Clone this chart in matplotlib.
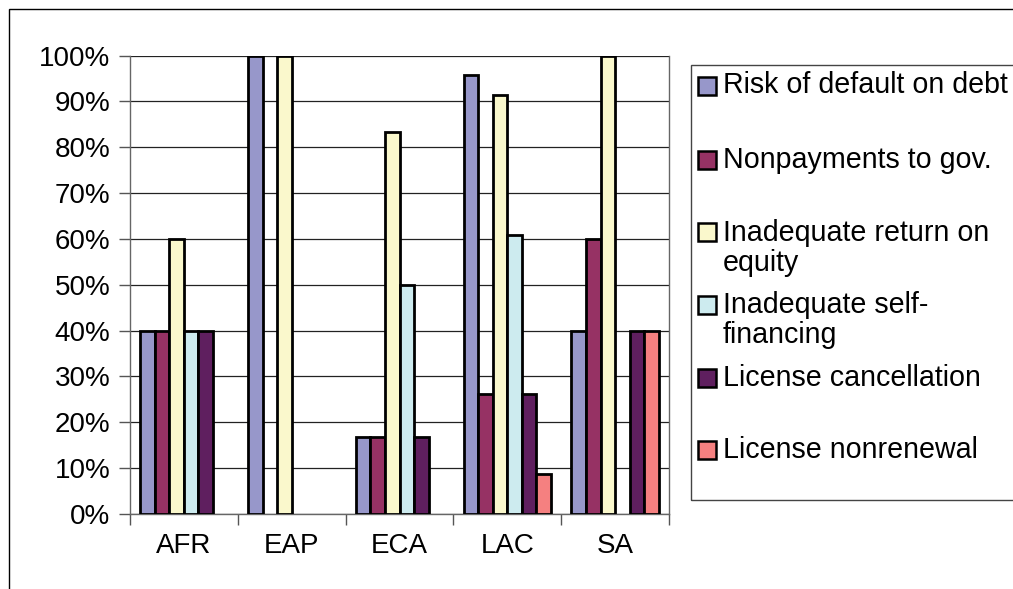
import numpy as np
import matplotlib
matplotlib.use("Agg")
import matplotlib.pyplot as plt
from matplotlib.patches import Rectangle

plt.rcParams['font.family'] = ['Liberation Sans', 'DejaVu Sans']

regions = ['AFR', 'EAP', 'ECA', 'LAC', 'SA']
series = ['Risk of default on debt', 'Nonpayments to gov.',
          'Inadequate return on\nequity', 'Inadequate self-\nfinancing',
          'License cancellation', 'License nonrenewal']
risk_default = [40, 100, 16.7, 95.7, 40]
nonpayments = [40, 0, 16.7, 26.1, 60]
return_equity = [60, 100, 83.3, 91.3, 100]
self_financing = [40, 0, 50, 60.9, 0]
license_cancel = [40, 0, 16.7, 26.1, 40]
license_nonrenew = [0, 0, 0, 8.7, 40]
values = [risk_default, nonpayments, return_equity, self_financing,
          license_cancel, license_nonrenew]
colors = ['#9797CA', '#963264', '#FAF8CC', '#CDEBEF', '#5F1F5F', '#F58080']

W, H = 1013, 589
fig = plt.figure(figsize=(W / 100, H / 100), dpi=100)
fig.patch.set_facecolor('white')
ax = fig.add_axes([130 / W, 1 - 514 / H, 539 / W, (514 - 55.5) / H])

x = np.arange(len(regions))
bw = 0.135
for i, (vals, col) in enumerate(zip(values, colors)):
    # zero-height bars are not drawn (no outline on the baseline)
    edges = ['black' if v > 0 else 'none' for v in vals]
    ax.bar(x + (i - 2.5) * bw, vals, bw, color=col, edgecolor=edges,
           linewidth=2.0, zorder=3)

ax.set_xlim(-0.5, len(regions) - 0.5)
ax.set_ylim(0, 100)
ax.set_yticks(np.arange(0, 101, 10))
ax.set_yticklabels(['%d%%' % v for v in range(0, 101, 10)], fontsize=20)
ax.set_xticks(x)
ax.set_xticklabels(regions, fontsize=20)
ax.set_xticks(np.arange(-0.5, len(regions), 1), minor=True)
ax.tick_params(axis='x', which='major', length=0, pad=14)
ax.tick_params(axis='x', which='minor', length=8, width=1, color='#555555')
ax.tick_params(axis='y', length=8, width=1, color='#555555', pad=6)
ax.yaxis.grid(True, color='#222222', linewidth=0.9, zorder=0)
ax.spines['top'].set_visible(False)
for s in ['left', 'bottom', 'right']:
    ax.spines[s].set_color('#666666')
    ax.spines[s].set_linewidth(1)

# outer chart border
fig.patches.append(Rectangle((9 / W, -0.1), 1.2, 1 - 9 / H + 0.1,
                             transform=fig.transFigure, fill=False,
                             edgecolor='black', linewidth=1))

# legend box
fig.patches.append(Rectangle((691 / W, 1 - 500 / H), 0.5, (500 - 65) / H,
                             transform=fig.transFigure, fill=False,
                             edgecolor='#444444', linewidth=1))
label_y = [85, 160, 248, 320, 378, 450]
square_y = [86, 160, 232, 305, 378, 450]
for lab, col, ty, sy in zip(series, colors, label_y, square_y):
    fig.patches.append(Rectangle((698 / W, 1 - (sy + 9) / H), 18 / W, 18 / H,
                                 transform=fig.transFigure, facecolor=col,
                                 edgecolor='black', linewidth=1.8))
    fig.text(723 / W, 1 - ty / H, lab, fontsize=20.6, va='center', ha='left',
             linespacing=1.12)

fig.savefig('out.png', dpi=100)
